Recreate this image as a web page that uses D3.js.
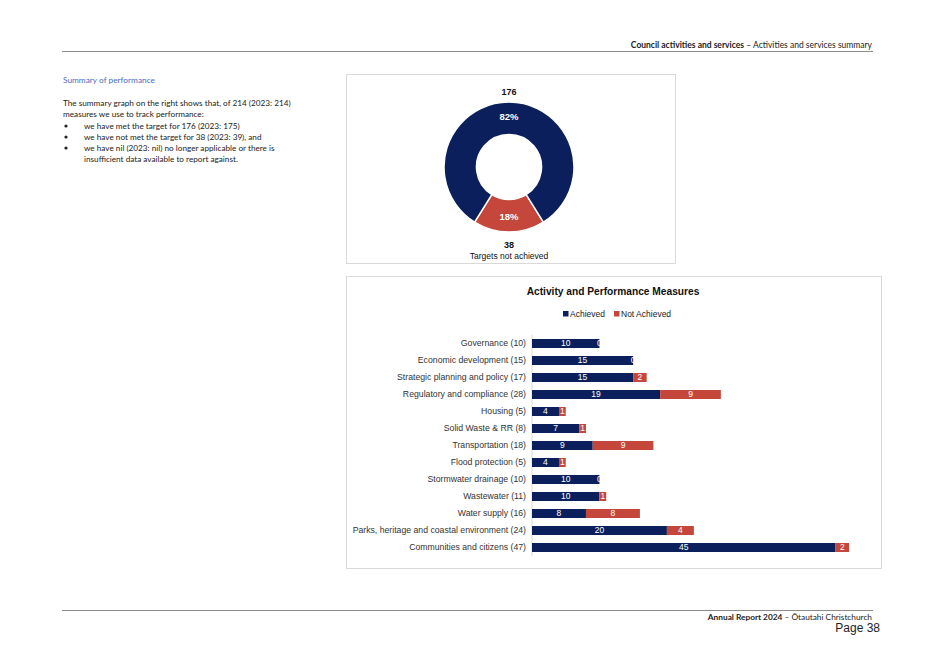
<!DOCTYPE html>
<html>
<head>
<meta charset="utf-8">
<script src="https://cdn.jsdelivr.net/npm/d3@7/dist/d3.min.js"></script>
<style>
  html, body { margin: 0; padding: 0; background: #fff; }
  svg { display: block; }
</style>
</head>
<body>
<svg id="page" width="934" height="661"></svg>
<script>
// ---- Data ----
const categories = [
  "Governance (10)",
  "Economic development (15)",
  "Strategic planning and policy (17)",
  "Regulatory and compliance (28)",
  "Housing (5)",
  "Solid Waste & RR (8)",
  "Transportation (18)",
  "Flood protection (5)",
  "Stormwater drainage (10)",
  "Wastewater (11)",
  "Water supply (16)",
  "Parks, heritage and coastal environment (24)",
  "Communities and citizens (47)"
];
const achieved    = [10, 15, 15, 19, 4, 7, 9, 4, 10, 10, 8, 20, 45];
const notAchieved = [0, 0, 2, 9, 1, 1, 9, 1, 0, 1, 8, 4, 2];
const seriesNames = ["Achieved", "Not Achieved"];

const donutLabels = ["Targets not achieved", "Targets achieved"];
const donutValues = [38, 176];

const introLines = [
  "The summary graph on the right shows that, of 214 (2023: 214)",
  "measures we use to track performance:"
];
const bulletLines = [
  ["we have met the target for 176 (2023: 175)"],
  ["we have not met the target for 38 (2023: 39), and"],
  ["we have nil (2023: nil) no longer applicable or there is", "insufficient data available to report against."]
];

// ---- Styles ----
const NAVY = "#0b1f5c";
const RED = "#c5473b";
const docFont = "Lato, 'Open Sans', sans-serif";
const chartFont = "'Liberation Sans', Arial, sans-serif";

const svg = d3.select("#page");

// ---- Page header / footer ----
svg.append("line").attr("x1", 62).attr("x2", 873).attr("y1", 51.5).attr("y2", 51.5)
  .attr("stroke", "#8c8c8c").attr("stroke-width", 1);
const hdr = svg.append("text").attr("x", 872).attr("y", 48).attr("text-anchor", "end")
  .attr("font-family", docFont).attr("font-size", 8.5).attr("fill", "#222");
hdr.append("tspan").attr("font-weight", "bold").text("Council activities and services");
hdr.append("tspan").text(" \u2013 Activities and services summary");

svg.append("line").attr("x1", 62).attr("x2", 873).attr("y1", 610.5).attr("y2", 610.5)
  .attr("stroke", "#8c8c8c").attr("stroke-width", 1);
const ftr = svg.append("text").attr("x", 872).attr("y", 620).attr("text-anchor", "end")
  .attr("font-family", docFont).attr("font-size", 8.3).attr("fill", "#222");
ftr.append("tspan").attr("font-weight", "bold").text("Annual Report 2024");
ftr.append("tspan").text(" \u2013 \u014Ctautahi Christchurch");
svg.append("text").attr("x", 880).attr("y", 632).attr("text-anchor", "end")
  .attr("font-family", chartFont).attr("font-size", 12).attr("fill", "#222").text("Page 38");

// ---- Left text ----
svg.append("text").attr("x", 63).attr("y", 83).attr("font-family", docFont)
  .attr("font-size", 8.3).attr("fill", "#4a6cc0").text("Summary of performance");
introLines.forEach((t, i) => {
  svg.append("text").attr("x", 63).attr("y", 106 + i * 11).attr("font-family", docFont)
    .attr("font-size", 8.2).attr("fill", "#222").text(t);
});
let by = 129;
bulletLines.forEach(lines => {
  svg.append("circle").attr("cx", 66).attr("cy", by - 3).attr("r", 1.6).attr("fill", "#222");
  lines.forEach((t, j) => {
    svg.append("text").attr("x", 84).attr("y", by + j * 11).attr("font-family", docFont)
      .attr("font-size", 8.2).attr("fill", "#222").text(t);
  });
  by += lines.length * 11;
});

// ---- Donut chart ----
svg.append("rect").attr("x", 346.5).attr("y", 74.5).attr("width", 329).attr("height", 189)
  .attr("fill", "#fff").attr("stroke", "#d9d9d9");
const cx = 509, cy = 167, rOut = 65, rIn = 32.5;
const total = d3.sum(donutValues);
const redSpan = 2 * Math.PI * donutValues[0] / total;
const pie = d3.pie().sort(null).value(d => d)
  .startAngle(Math.PI - redSpan / 2).endAngle(Math.PI - redSpan / 2 + 2 * Math.PI);
const arcs = pie(donutValues);
const arc = d3.arc().innerRadius(rIn).outerRadius(rOut);
const dg = svg.append("g").attr("transform", `translate(${cx},${cy})`);
dg.selectAll("path").data(arcs).join("path")
  .attr("d", arc).attr("fill", (d, i) => i === 0 ? RED : NAVY)
  .attr("stroke", "#fff").attr("stroke-width", 1.5);
dg.selectAll("text.pct").data(arcs).join("text").attr("class", "pct")
  .attr("x", d => arc.centroid(d)[0])
  .attr("y", d => arc.centroid(d)[1] + (d.index === 0 ? 2 : -1))
  .attr("text-anchor", "middle").attr("dominant-baseline", "middle")
  .attr("font-family", chartFont).attr("font-weight", "bold").attr("font-size", 9.5)
  .attr("fill", "#fff").text(d => Math.round(100 * d.data / total) + "%");
svg.append("text").attr("x", cx).attr("y", 95).attr("text-anchor", "middle")
  .attr("font-family", chartFont).attr("font-weight", "bold").attr("font-size", 9)
  .attr("fill", "#111").text(donutValues[1]);
svg.append("text").attr("x", cx).attr("y", 248).attr("text-anchor", "middle")
  .attr("font-family", chartFont).attr("font-weight", "bold").attr("font-size", 9)
  .attr("fill", "#111").text(donutValues[0]);
svg.append("text").attr("x", cx).attr("y", 259).attr("text-anchor", "middle")
  .attr("font-family", chartFont).attr("font-size", 8.5)
  .attr("fill", "#111").text(donutLabels[0]);

// ---- Bar chart ----
svg.append("rect").attr("x", 346.5).attr("y", 276.5).attr("width", 535).attr("height", 292)
  .attr("fill", "#fff").attr("stroke", "#d9d9d9");
svg.append("text").attr("x", 613).attr("y", 295).attr("text-anchor", "middle")
  .attr("font-family", chartFont).attr("font-weight", "bold").attr("font-size", 10.2)
  .attr("fill", "#111").text("Activity and Performance Measures");

// legend
const legendX = [563, 614];
seriesNames.forEach((s, i) => {
  svg.append("rect").attr("x", legendX[i]).attr("y", 311).attr("width", 5.5).attr("height", 5.5)
    .attr("fill", i === 0 ? NAVY : RED);
  svg.append("text").attr("x", legendX[i] + 7).attr("y", 317).attr("font-family", chartFont)
    .attr("font-size", 8.5).attr("fill", "#222").text(s);
});

const rows = categories.map((c, i) => ({ c, a: achieved[i], n: notAchieved[i] }));
const x = d3.scaleLinear().domain([0, d3.max(rows, r => r.a + r.n)]).range([532, 849]);
const y = d3.scaleBand().domain(categories).range([335, 556]).paddingInner(0.47).paddingOuter(0.235);

svg.append("line").attr("x1", 532).attr("x2", 532).attr("y1", 335).attr("y2", 556)
  .attr("stroke", "#d9d9d9");

const stack = d3.stack().keys(["a", "n"])(rows);
const bg = svg.append("g");
stack.forEach((layer, li) => {
  bg.selectAll(null).data(layer).join("rect")
    .attr("x", d => x(d[0])).attr("width", d => x(d[1]) - x(d[0]))
    .attr("y", d => y(d.data.c)).attr("height", y.bandwidth())
    .attr("fill", li === 0 ? NAVY : RED);
  bg.selectAll(null).data(layer).join("text")
    .attr("x", d => (x(d[0]) + x(d[1])) / 2)
    .attr("y", d => y(d.data.c) + y.bandwidth() / 2 + 0.5)
    .attr("text-anchor", "middle").attr("dominant-baseline", "middle")
    .attr("font-family", chartFont).attr("font-size", 8.5).attr("fill", "#fff")
    .text(d => d[1] - d[0]);
});

// category axis labels
svg.append("g").attr("transform", "translate(526,0)")
  .call(d3.axisLeft(y).tickSize(0).tickPadding(0))
  .call(g => g.select(".domain").remove())
  .call(g => g.selectAll("text").attr("font-family", chartFont).attr("font-size", 8.7)
    .attr("fill", "#333"));
</script>
</body>
</html>
